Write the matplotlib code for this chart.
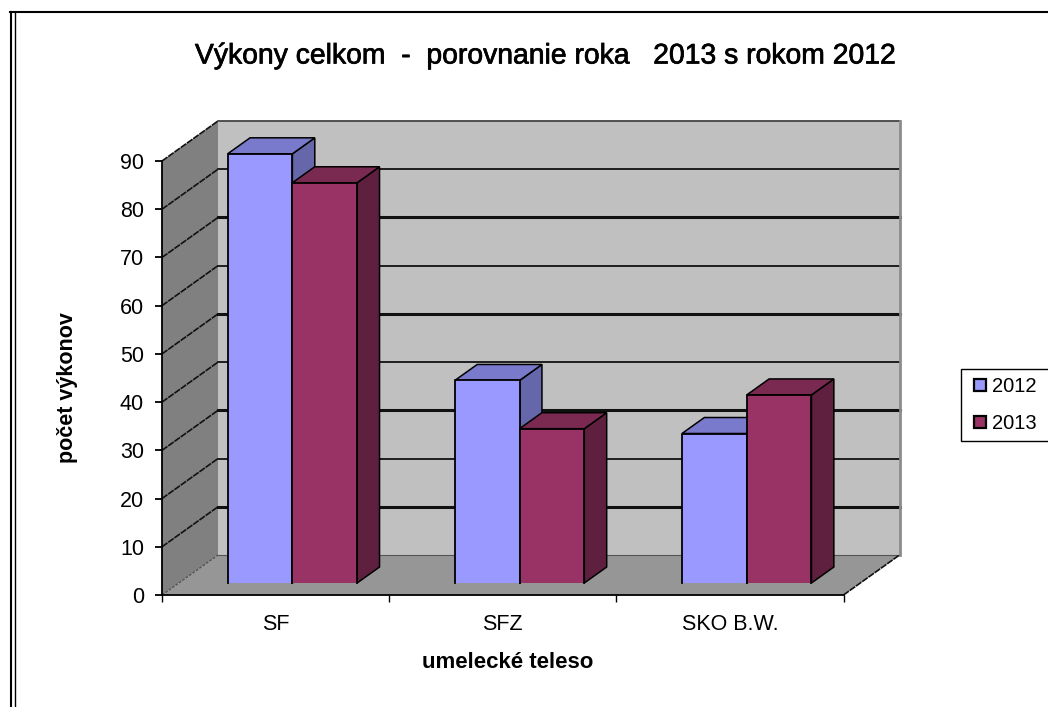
import matplotlib
matplotlib.use('Agg')
import matplotlib.pyplot as plt
import matplotlib.patheffects as pe
from matplotlib.patches import Polygon
from matplotlib.lines import Line2D

plt.rcParams['font.family'] = ['Liberation Sans', 'DejaVu Sans']

categories = ['SF', 'SFZ', 'SKO B.W.']
years = ['2012', '2013']
values_2012 = [89, 42, 31]
values_2013 = [83, 32, 39]
y_ticks = [0, 10, 20, 30, 40, 50, 60, 70, 80, 90]

W, H = 1048, 707
fig = plt.figure(figsize=(W / 100, H / 100), dpi=100)
fig.patch.set_facecolor('white')

# axes box = front plane of the fake 3D chart
left, right, bottom, top = 162, 843.5, 595, 161
ax = fig.add_axes([left / W, 1 - bottom / H, (right - left) / W, (bottom - top) / H])
ax.set_xlim(0, 3)
ax.set_ylim(0, 90)
ax.patch.set_visible(False)

# depth offset of the back wall in data units
depth_x = 56 / ((right - left) / 3)
depth_y = 40 / ((bottom - top) / 90)


def pt(x, y, d=0):
    return (x + d * depth_x, y + d * depth_y)


def face(pts, color, edge='none', lw=0, z=1):
    ax.add_patch(Polygon(pts, closed=True, facecolor=color, edgecolor=edge, linewidth=lw,
                         clip_on=False, zorder=z, joinstyle='miter'))


# walls
face([pt(0, 0, 1), pt(3, 0, 1), pt(3, 90, 1), pt(0, 90, 1)], '#c0c0c0')
face([pt(0, 0), pt(0, 0, 1), pt(0, 90, 1), pt(0, 90)], '#808080')
face([pt(0, 0), pt(3, 0), pt(3, 0, 1), pt(0, 0, 1)], '#969696')

# grid lines, every other one renders heavier
for v in y_ticks:
    if v == 0:
        ax.plot(*zip(pt(0, 0, 1), pt(3, 0, 1)), color='#555555', lw=0.8, clip_on=False, zorder=2)
        ax.plot(*zip(pt(0, 0), pt(0, 0, 1)), color='#555555', lw=1, ls=(0, (2, 1)), clip_on=False, zorder=2)
        continue
    c = '#111111' if v < 90 else '#444444'
    lw = 2.2 if v % 20 == 10 and v < 90 else 1.3
    ax.plot(*zip(pt(0, v, 1), pt(3, v, 1)), color=c, lw=lw, clip_on=False, zorder=2)
    ax.plot(*zip(pt(0, v), pt(0, v, 1)), color='#111111', lw=1.2, ls=(0, (4, 0.6)), clip_on=False, zorder=2)

# right edge of back wall and floor
ax.plot(*zip(pt(3, 0, 1), pt(3, 90, 1)), color='#8c8c8c', lw=2, clip_on=False, zorder=2)
ax.plot(*zip(pt(3, 0), pt(3, 0, 1)), color='#111111', lw=1.2, ls=(0, (4, 0.6)), clip_on=False, zorder=2)

# bars
bar_w = 0.285
d0, d1 = 0.3, 0.7
series = [
    (values_2012, -bar_w, '#9999ff', '#7a7acc', '#6666aa'),
    (values_2013, 0, '#993366', '#7a2950', '#5e203e'),
]
for i in range(len(categories)):
    for vals, off, c_front, c_top, c_side in series:
        x0 = i + 0.5 + off
        x1 = x0 + bar_w
        v = vals[i]
        z = 3 + (off == 0)
        face([pt(x1, 0, d0), pt(x1, 0, d1), pt(x1, v, d1), pt(x1, v, d0)], c_side, 'black', 1.1, z)
        face([pt(x0, v, d0), pt(x1, v, d0), pt(x1, v, d1), pt(x0, v, d1)], c_top, 'black', 1.1, z)
        face([pt(x0, 0, d0), pt(x1, 0, d0), pt(x1, v, d0), pt(x0, v, d0)], c_front, 'none', 0, z)
        # the front face has no line along the floor
        ax.plot(*zip(pt(x0, 0, d0), pt(x0, v, d0), pt(x1, v, d0), pt(x1, 0, d0)),
                color='black', lw=1.3, clip_on=False, zorder=z + 0.1)

# axes
for s in ['top', 'right']:
    ax.spines[s].set_visible(False)
for s in ['left', 'bottom']:
    ax.spines[s].set_linewidth(1.3)
    ax.spines[s].set_zorder(6)
ax.set_yticks(y_ticks)
ax.tick_params(axis='y', length=5, width=1.3, labelsize=15.5, pad=8)
ax.set_xticks([0, 1, 2, 3])
ax.set_xticklabels([])
ax.set_xticks([i + 0.5 for i in range(3)], minor=True)
ax.set_xticklabels(categories, minor=True, fontsize=15.5)
ax.tick_params(axis='x', which='major', length=5, width=1)
ax.tick_params(axis='x', which='minor', length=0, pad=14)

title = fig.text(546 / W, 1 - 56.5 / H, 'Výkony celkom  -  porovnanie roka   2013 s rokom 2012',
                 ha='center', va='center', fontsize=20.4)
title.set_path_effects([pe.withStroke(linewidth=0.5, foreground='black')])
fig.text(508 / W, 1 - 663 / H, 'umelecké teleso', ha='center', va='center', fontsize=16, fontweight='bold')
fig.text(68 / W, 1 - 388 / H, 'počet výkonov', ha='center', va='center', rotation=90,
         fontsize=15.5, fontweight='bold')

# legend, square markers so they sit further in from the frame
# mode=expand pushes the right side of the frame off the page like in the original
handles = [Line2D([], [], ls='none', marker='s', ms=8.5, mfc=c, mec='black', mew=1.6)
           for c in ['#9999ff', '#993366']]
leg = ax.legend(handles, years, loc='upper left', bbox_to_anchor=(961 / W, 1 - 369 / H, 100 / W, 0),
                bbox_transform=fig.transFigure, mode='expand', fontsize=14.5, frameon=True, fancybox=False,
                edgecolor='black', framealpha=1, numpoints=1, handlelength=1.09,
                handletextpad=0.05, labelspacing=0.88, borderpad=0.41, borderaxespad=0)
leg.get_frame().set_linewidth(1)

# page border, double on the left
for xs, ys, lw in [([11, 11], [11.5, H], 1.5), ([14.5, 14.5], [13, H], 1), ([10, W], [12, 12], 1.5)]:
    fig.add_artist(Line2D([x / W for x in xs], [1 - y / H for y in ys], color='black', lw=lw))

fig.savefig('out.png', dpi=100)
